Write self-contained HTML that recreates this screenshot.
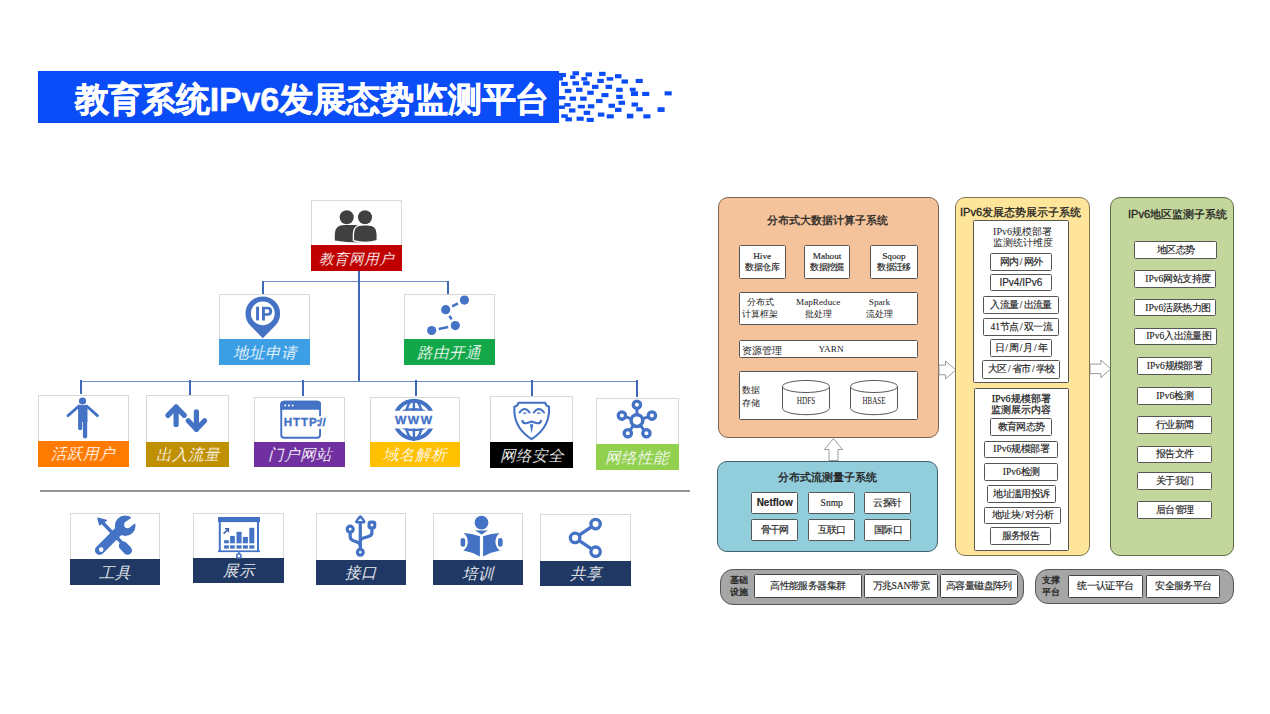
<!DOCTYPE html><html><head><meta charset="utf-8"><style>
*{margin:0;padding:0;box-sizing:border-box}
html,body{width:1270px;height:714px;background:#fff;overflow:hidden;position:relative}
body{font-family:"Liberation Sans",sans-serif}
.ab{position:absolute}
.ttl{position:absolute;left:38px;top:70.5px;width:521px;height:52px;background:#0A4CF8}
.ttxt{position:absolute;left:74.5px;top:75.5px;font-size:34px;font-weight:bold;color:#fff;-webkit-text-stroke:0.5px #fff;white-space:nowrap;line-height:46px;letter-spacing:-0.2px}
.card{position:absolute;background:#fff;border:1px solid #d9d9d9}
.lab{position:absolute;left:-1px;right:-1px;bottom:-1px;color:#fff;font-style:italic;font-size:15px;display:flex;align-items:center;justify-content:center;white-space:nowrap;padding-top:1px}
.ln{position:absolute;background:#4472C4}
.rb{position:absolute;border:1.5px solid #5a5a5a;border-radius:9px}
.wb{position:absolute;background:#fff;border:1.2px solid #555;border-radius:1.5px;display:flex;align-items:center;justify-content:center;text-align:center;font-size:10px;color:#222;line-height:12px;white-space:nowrap;font-family:'Liberation Serif',serif;letter-spacing:-0.6px;-webkit-text-stroke:0.15px #222}
.t{position:absolute;white-space:nowrap;color:#222}
svg{position:absolute;overflow:visible}
</style></head><body>
<div class="ttl"></div>
<div class="ttxt">教育系统IPv6发展态势监测平台</div>
<svg style="left:540px;top:60px" width="150" height="70" viewBox="0 0 1270 593" preserveAspectRatio="none"><g fill="#0A4CF8"><rect x="150" y="110" width="70" height="32"/><rect x="150" y="140" width="45" height="34"/><rect x="175" y="110" width="45" height="35"/><rect x="275" y="95" width="55" height="35"/><rect x="255" y="130" width="45" height="30"/><rect x="385" y="105" width="55" height="35"/><rect x="350" y="145" width="50" height="30"/><rect x="500" y="100" width="55" height="35"/><rect x="565" y="145" width="55" height="30"/><rect x="635" y="120" width="55" height="35"/><rect x="690" y="165" width="55" height="35"/><rect x="810" y="160" width="60" height="35"/><rect x="180" y="185" width="55" height="35"/><rect x="275" y="180" width="55" height="35"/><rect x="365" y="180" width="55" height="35"/><rect x="485" y="160" width="55" height="35"/><rect x="440" y="210" width="55" height="35"/><rect x="555" y="210" width="55" height="35"/><rect x="210" y="245" width="55" height="35"/><rect x="305" y="235" width="55" height="35"/><rect x="400" y="260" width="55" height="35"/><rect x="520" y="280" width="60" height="35"/><rect x="645" y="235" width="55" height="35"/><rect x="760" y="235" width="50" height="30"/><rect x="770" y="265" width="60" height="40"/><rect x="865" y="270" width="60" height="35"/><rect x="1055" y="265" width="60" height="35"/><rect x="160" y="305" width="55" height="30"/><rect x="250" y="310" width="55" height="35"/><rect x="340" y="310" width="55" height="35"/><rect x="475" y="330" width="55" height="35"/><rect x="645" y="295" width="55" height="35"/><rect x="205" y="365" width="55" height="30"/><rect x="320" y="380" width="60" height="30"/><rect x="405" y="375" width="55" height="35"/><rect x="580" y="370" width="55" height="35"/><rect x="665" y="345" width="55" height="35"/><rect x="775" y="360" width="55" height="35"/><rect x="160" y="385" width="50" height="30"/><rect x="245" y="410" width="55" height="35"/><rect x="370" y="430" width="55" height="35"/><rect x="635" y="405" width="55" height="35"/><rect x="815" y="400" width="55" height="35"/><rect x="995" y="400" width="60" height="40"/><rect x="180" y="460" width="55" height="30"/><rect x="215" y="485" width="55" height="35"/><rect x="310" y="480" width="60" height="35"/><rect x="395" y="490" width="60" height="35"/><rect x="490" y="445" width="55" height="35"/><rect x="565" y="460" width="60" height="35"/><rect x="735" y="455" width="55" height="40"/><rect x="875" y="460" width="60" height="35"/></g></svg>
<div class="ln" style="left:262px;top:280.7px;width:187px;height:1.1px;background:#6f8cc8"></div>
<div class="ln" style="left:357.5px;top:271px;width:2px;height:111px;background:#3f68b8"></div>
<div class="ln" style="left:262.0px;top:281px;width:2px;height:13.5px;background:#3f68b8"></div>
<div class="ln" style="left:447.0px;top:281px;width:2px;height:13.5px;background:#3f68b8"></div>
<div class="ln" style="left:80px;top:381px;width:558px;height:1.1px;background:#6f8cc8"></div>
<div class="ln" style="left:80.0px;top:380px;width:2px;height:14.199999999999989px;background:#3f68b8"></div>
<div class="ln" style="left:189.0px;top:380px;width:2px;height:14.5px;background:#3f68b8"></div>
<div class="ln" style="left:301.6px;top:380px;width:2px;height:16px;background:#3f68b8"></div>
<div class="ln" style="left:414.6px;top:380px;width:2px;height:15.5px;background:#3f68b8"></div>
<div class="ln" style="left:530.5px;top:380px;width:2px;height:15.5px;background:#3f68b8"></div>
<div class="ln" style="left:635.8px;top:380px;width:2px;height:16.5px;background:#3f68b8"></div>
<div class="card" style="left:311px;top:200px;width:91px;height:71px"><div class="lab" style="top:44px;background:#C00000;color:#fff;font-size:14.6px;padding-top:2px;-webkit-text-stroke:0.15px #C00000">教育网用户</div></div>
<div class="card" style="left:219px;top:294px;width:91px;height:71px"><div class="lab" style="top:44px;background:#3C9FE6;color:#fff;font-size:15.5px;padding-top:2px;-webkit-text-stroke:0.15px #3C9FE6">地址申请</div></div>
<div class="card" style="left:404px;top:294px;width:90.5px;height:71px"><div class="lab" style="top:44px;background:#12A84A;color:#fff;font-size:15.5px;padding-top:2px;-webkit-text-stroke:0.15px #12A84A">路由开通</div></div>
<div class="card" style="left:37.5px;top:395px;width:91.5px;height:71.60000000000002px"><div class="lab" style="top:44.60000000000002px;background:#FF7A00;color:#fff;font-size:15.5px;padding-top:1.7px;-webkit-text-stroke:0.15px #FF7A00">活跃用户</div></div>
<div class="card" style="left:146px;top:395px;width:83px;height:72.39999999999998px"><div class="lab" style="top:46px;background:#BF9000;color:#fff;font-size:15.5px;padding-top:1.7px;-webkit-text-stroke:0.15px #BF9000">出入流量</div></div>
<div class="card" style="left:254px;top:397px;width:91.39999999999998px;height:70.39999999999998px"><div class="lab" style="top:43.80000000000001px;background:#7030A0;color:#fff;font-size:15.5px;padding-top:1.7px;-webkit-text-stroke:0.15px #7030A0">门户网站</div></div>
<div class="card" style="left:370px;top:396.5px;width:90.39999999999998px;height:70.89999999999998px"><div class="lab" style="top:44.89999999999998px;background:#FFC000;color:#fff;font-size:15.5px;padding-top:1.7px;-webkit-text-stroke:0.15px #FFC000">域名解析</div></div>
<div class="card" style="left:490.3px;top:396.2px;width:83.09999999999997px;height:72.0px"><div class="lab" style="top:45.19999999999999px;background:#000000;color:#fff;font-size:15.5px;padding-top:1.7px;-webkit-text-stroke:0.15px #000000">网络安全</div></div>
<div class="card" style="left:596px;top:397.5px;width:82.5px;height:72.5px"><div class="lab" style="top:45.80000000000001px;background:#92D050;color:#fff;font-size:15.5px;padding-top:2px;-webkit-text-stroke:0.15px #92D050">网络性能</div></div>
<div class="ab" style="left:40px;top:489.6px;width:650px;height:2.2px;background:#959595"></div>
<div class="card" style="left:69.5px;top:513px;width:90.69999999999999px;height:72px"><div class="lab" style="top:45px;background:#1F3864;color:#fff;font-size:15.5px;padding-top:2.5px;-webkit-text-stroke:0.15px #1F3864">工具</div></div>
<div class="card" style="left:193.3px;top:512.5px;width:90.69999999999999px;height:70.70000000000005px"><div class="lab" style="top:44.200000000000045px;background:#1F3864;color:#fff;font-size:15.5px;padding-top:2.5px;-webkit-text-stroke:0.15px #1F3864">展示</div></div>
<div class="card" style="left:315.5px;top:512.6px;width:90.30000000000001px;height:72.19999999999993px"><div class="lab" style="top:46.60000000000002px;background:#1F3864;color:#fff;font-size:15.5px;padding-top:2.5px;-webkit-text-stroke:0.15px #1F3864">接口</div></div>
<div class="card" style="left:432.5px;top:513.4px;width:90.5px;height:72.10000000000002px"><div class="lab" style="top:45.80000000000007px;background:#1F3864;color:#fff;font-size:15.5px;padding-top:2.5px;-webkit-text-stroke:0.15px #1F3864">培训</div></div>
<div class="card" style="left:540.4px;top:514.2px;width:91.10000000000002px;height:72.29999999999995px"><div class="lab" style="top:45.799999999999955px;background:#1F3864;color:#fff;font-size:15.5px;padding-top:2.5px;-webkit-text-stroke:0.15px #1F3864">共享</div></div>
<div class="rb" style="left:718px;top:197.3px;width:220.5px;height:241.2px;background:#F5C39B;border-radius:10px;border-color:#7d6450"></div>
<div class="t" style="left:767px;top:214px;font-size:11px;line-height:13px;width:121px;text-align:center;-webkit-text-stroke:0.3px #222">分布式大数据计算子系统</div>
<div class="wb" style="left:738.7px;top:245px;width:46.89999999999998px;height:33.5px;font-size:9.2px;line-height:11px;padding-top:1px"><div><span style="letter-spacing:0">Hive</span><br>数据仓库</div></div>
<div class="wb" style="left:803.6px;top:245px;width:46.89999999999998px;height:33.5px;font-size:9.2px;line-height:11px;padding-top:1px"><div><span style="letter-spacing:0">Mahout</span><br>数据挖掘</div></div>
<div class="wb" style="left:870.4px;top:245px;width:47.200000000000045px;height:33.5px;font-size:9.2px;line-height:11px;padding-top:1px"><div><span style="letter-spacing:0">Sqoop</span><br>数据迁移</div></div>
<div class="wb" style="left:738.6px;top:292.4px;width:179.0px;height:32.80000000000001px;font-size:9.5px;"><div></div></div>
<div class="t" style="left:741.5px;top:297px;font-size:9.2px;line-height:11.2px;line-height:11.5px;color:#222;width:37px;text-align:center">分布式<br>计算框架</div>
<div class="t" style="left:796px;top:297px;font-size:9.2px;line-height:11.2px;line-height:11.5px;color:#222;font-family:Liberation Serif,serif;width:44px;text-align:center">MapReduce<br>批处理</div>
<div class="t" style="left:866px;top:297px;font-size:9.2px;line-height:11.2px;line-height:11.5px;color:#222;text-align:center;font-family:Liberation Serif,serif">Spark<br>流处理</div>
<div class="wb" style="left:738.6px;top:340.2px;width:179.0px;height:17.900000000000034px;font-size:9.5px;"><div></div></div>
<div class="t" style="left:741.5px;top:345px;font-size:9.5px;line-height:11.5px;line-height:11px;color:#222">资源管理</div>
<div class="t" style="left:818.5px;top:343.5px;font-size:9.2px;line-height:11.2px;line-height:11px;color:#222;font-family:Liberation Serif,serif">YARN</div>
<div class="wb" style="left:738.6px;top:371.2px;width:179.0px;height:49.10000000000002px;font-size:9.5px;"><div></div></div>
<div class="t" style="left:742px;top:384px;font-size:9.2px;line-height:11.2px;line-height:13px;color:#222">数据<br>存储</div>
<svg style="left:782px;top:380.3px" width="48" height="34.69999999999999" viewBox="0 0 48 34.69999999999999"><path d="M0.5 6.5 L0.5 28.19999999999999 A23.5 6.5 0 0 0 47.5 28.19999999999999 L47.5 6.5" fill="#fff" stroke="#555" stroke-width="1"/><ellipse cx="24.0" cy="6.5" rx="23.5" ry="6.0" fill="#fff" stroke="#555" stroke-width="1"/><text x="24.0" y="23.849999999999994" text-anchor="middle" textLength="18.6" lengthAdjust="spacingAndGlyphs" font-family="Liberation Serif" font-size="10" fill="#222">HDFS</text></svg>
<svg style="left:850px;top:380.3px" width="48" height="34.69999999999999" viewBox="0 0 48 34.69999999999999"><path d="M0.5 6.5 L0.5 28.19999999999999 A23.5 6.5 0 0 0 47.5 28.19999999999999 L47.5 6.5" fill="#fff" stroke="#555" stroke-width="1"/><ellipse cx="24.0" cy="6.5" rx="23.5" ry="6.0" fill="#fff" stroke="#555" stroke-width="1"/><text x="24.0" y="23.849999999999994" text-anchor="middle" textLength="23" lengthAdjust="spacingAndGlyphs" font-family="Liberation Serif" font-size="10" fill="#222">HBASE</text></svg>
<svg style="left:938.5px;top:361px" width="17.0" height="17.899999999999977" viewBox="0 0 17.0 17.899999999999977"><path d="M0 4.116999999999995 L6.46 4.116999999999995 L6.46 0 L17.0 8.949999999999989 L6.46 17.899999999999977 L6.46 13.782999999999983 L0 13.782999999999983Z" fill="#fff" stroke="#999" stroke-width="1"/></svg>
<svg style="left:1090px;top:360.1px" width="20.90000000000009" height="17.69999999999999" viewBox="0 0 20.90000000000009 17.69999999999999"><path d="M0 4.070999999999998 L10.868000000000048 4.070999999999998 L10.868000000000048 0 L20.90000000000009 8.849999999999994 L10.868000000000048 17.69999999999999 L10.868000000000048 13.62899999999999 L0 13.62899999999999Z" fill="#fff" stroke="#999" stroke-width="1"/></svg>
<svg style="left:824px;top:438px" width="19" height="23" viewBox="0 0 19 23"><path d="M9.5 0.5 L18.5 11.5 L14 11.5 L14 22.5 L5 22.5 L5 11.5 L0.5 11.5 Z" fill="#fff" stroke="#999" stroke-width="1"/></svg>
<div class="rb" style="left:717.4px;top:460.8px;width:220.80000000000007px;height:91.40000000000003px;background:#92CDDC;border-radius:10px;border-color:#44606c"></div>
<div class="t" style="left:778px;top:470.5px;font-size:11px;line-height:13px;color:#222;-webkit-text-stroke:0.35px #222">分布式流测量子系统</div>
<div class="wb" style="left:751.3px;top:491.6px;width:46.80000000000007px;height:22.399999999999977px;font-size:10px;font-weight:bold;color:#222;font-family:Liberation Sans,sans-serif"><div><span style="letter-spacing:0">Netflow</span></div></div>
<div class="wb" style="left:808.3px;top:491.6px;width:46.80000000000007px;height:22.399999999999977px;font-size:9.5px;"><div><span style="letter-spacing:0">Snmp</span></div></div>
<div class="wb" style="left:864px;top:491.6px;width:46.5px;height:22.399999999999977px;font-size:9.5px;"><div>云探针</div></div>
<div class="wb" style="left:751.3px;top:518.6px;width:46.80000000000007px;height:22.0px;font-size:9.5px;"><div>骨干网</div></div>
<div class="wb" style="left:808.3px;top:518.6px;width:46.80000000000007px;height:22.0px;font-size:9.5px;"><div>互联口</div></div>
<div class="wb" style="left:864.4px;top:518.6px;width:47.0px;height:22.0px;font-size:9.5px;"><div>国际口</div></div>
<div class="rb" style="left:955.2px;top:196.9px;width:134.79999999999995px;height:359.1px;background:#FEE599;border-radius:10px;border-color:#7f7555"></div>
<div class="t" style="left:960px;top:205.5px;font-size:11px;line-height:13px;color:#222;-webkit-text-stroke:0.3px #222">IPv6发展态势展示子系统</div>
<div class="wb" style="left:973.3px;top:220.3px;width:95.70000000000005px;height:162.7px;font-size:10px;align-items:flex-start"><div></div></div>
<div class="t" style="left:974.5px;top:225.5px;font-size:10px;line-height:12px;width:96px;text-align:center;line-height:11.5px;color:#222;font-family:Liberation Serif,serif">IPv6规模部署<br>监测统计维度</div>
<div class="wb" style="left:990.4px;top:253px;width:61.30000000000007px;height:18.30000000000001px;font-size:9.5px;"><div>网内<span style="letter-spacing:0;padding:0 1.2px">/</span>网外</div></div>
<div class="wb" style="left:990px;top:273.7px;width:61.59999999999991px;height:17.600000000000023px;font-size:9.5px;"><div><span style="font-family:Liberation Sans,sans-serif;font-size:10px;letter-spacing:0;position:relative;top:1px">IPv4/IPv6</span></div></div>
<div class="wb" style="left:983.1px;top:295.9px;width:76.19999999999993px;height:17.80000000000001px;font-size:9.5px;"><div>入流量<span style="letter-spacing:0;padding:0 1.2px">/</span>出流量</div></div>
<div class="wb" style="left:983.1px;top:318.3px;width:76.19999999999993px;height:17.80000000000001px;font-size:9.5px;"><div><span style="letter-spacing:0">41</span>节点<span style="letter-spacing:0;padding:0 1.2px">/</span>双一流</div></div>
<div class="wb" style="left:990.4px;top:339.2px;width:61.19999999999993px;height:18.19999999999999px;font-size:9.5px;"><div>日<span style="letter-spacing:0;padding:0 1.2px">/</span>周<span style="letter-spacing:0;padding:0 1.2px">/</span>月<span style="letter-spacing:0;padding:0 1.2px">/</span>年</div></div>
<div class="wb" style="left:982.2px;top:360.2px;width:78.29999999999995px;height:18.600000000000023px;font-size:9.5px;"><div>大区<span style="letter-spacing:0;padding:0 1.2px">/</span>省市<span style="letter-spacing:0;padding:0 1.2px">/</span>学校</div></div>
<div class="wb" style="left:973.9px;top:387.6px;width:95.30000000000007px;height:163.39999999999998px;font-size:9.5px;"><div></div></div>
<div class="t" style="left:973.9px;top:392.5px;font-size:10px;line-height:12px;width:94.5px;text-align:center;line-height:11.5px;color:#222;-webkit-text-stroke:0.25px #222;font-family:Liberation Serif,serif">IPv6规模部署<br>监测展示内容</div>
<div class="wb" style="left:990.2px;top:418.3px;width:61.799999999999955px;height:17.69999999999999px;font-size:9.5px;"><div>教育网态势</div></div>
<div class="wb" style="left:984px;top:440.5px;width:74.29999999999995px;height:17.600000000000023px;font-size:9.5px;"><div><span style="letter-spacing:0">IPv6</span>规模部署</div></div>
<div class="wb" style="left:984px;top:463.2px;width:74.29999999999995px;height:17.600000000000023px;font-size:9.5px;"><div><span style="letter-spacing:0">IPv6</span>检测</div></div>
<div class="wb" style="left:987.2px;top:485.4px;width:68.59999999999991px;height:17.600000000000023px;font-size:9.5px;"><div>地址滥用投诉</div></div>
<div class="wb" style="left:984px;top:507.3px;width:77.29999999999995px;height:16.400000000000034px;font-size:9.5px;"><div>地址块<span style="letter-spacing:0;padding:0 1.2px">/</span>对分析</div></div>
<div class="wb" style="left:989.7px;top:527px;width:61.59999999999991px;height:18.200000000000045px;font-size:9.5px;"><div>服务报告</div></div>
<div class="rb" style="left:1110.4px;top:197px;width:124.09999999999991px;height:358.5px;background:#C3D69B;border-radius:10px;border-color:#5d6b4a"></div>
<div class="t" style="left:1128px;top:207.5px;font-size:11px;line-height:13px;color:#222;-webkit-text-stroke:0.3px #222">IPv6地区监测子系统</div>
<div class="wb" style="left:1133.6px;top:241.2px;width:83.90000000000009px;height:17.900000000000034px;font-size:9.5px;"><div>地区态势</div></div>
<div class="wb" style="left:1133.6px;top:269.8px;width:82.5px;height:18.19999999999999px;font-size:9.5px;padding-left:6px"><div><span style="letter-spacing:0">IPv6</span>网站支持度</div></div>
<div class="wb" style="left:1133.6px;top:298.6px;width:82.5px;height:17.899999999999977px;font-size:9.5px;padding-left:6px"><div><span style="letter-spacing:0">IPv6</span>活跃热力图</div></div>
<div class="wb" style="left:1134.4px;top:327.7px;width:82.59999999999991px;height:17.600000000000023px;font-size:9.5px;padding-left:6px"><div><span style="letter-spacing:0">IPv6</span>入出流量图</div></div>
<div class="wb" style="left:1137px;top:357.4px;width:75px;height:17.900000000000034px;font-size:9.5px;"><div><span style="letter-spacing:0">IPv6</span>规模部署</div></div>
<div class="wb" style="left:1137.2px;top:386.8px;width:74.79999999999995px;height:18.19999999999999px;font-size:9.5px;"><div><span style="letter-spacing:0">IPv6</span>检测</div></div>
<div class="wb" style="left:1137.2px;top:416.2px;width:74.79999999999995px;height:18.19999999999999px;font-size:9.5px;"><div>行业新闻</div></div>
<div class="wb" style="left:1137.2px;top:445.6px;width:74.79999999999995px;height:17.599999999999966px;font-size:9.5px;"><div>报告文件</div></div>
<div class="wb" style="left:1137.2px;top:472.2px;width:74.79999999999995px;height:18.100000000000023px;font-size:9.5px;"><div>关于我们</div></div>
<div class="wb" style="left:1137.2px;top:501px;width:74.79999999999995px;height:18.200000000000045px;font-size:9.5px;"><div>后台管理</div></div>
<div class="rb" style="left:720px;top:568.8px;width:303.70000000000005px;height:36.200000000000045px;background:#A6A6A6;border-radius:13px;border-color:#555;border-width:1.5px"></div>
<div class="t" style="left:730px;top:575px;font-size:9.2px;line-height:11.2px;line-height:11.5px;color:#222;-webkit-text-stroke:0.3px #222">基础<br>设施</div>
<div class="wb" style="left:754px;top:574.4px;width:107.70000000000005px;height:23.800000000000068px;font-size:9.5px;border-width:1.5px;border-color:#444"><div>高性能服务器集群</div></div>
<div class="wb" style="left:863.5px;top:574.4px;width:74.89999999999998px;height:23.800000000000068px;font-size:9.5px;border-width:1.5px;border-color:#444"><div>万兆<span style="letter-spacing:0">SAN</span>带宽</div></div>
<div class="wb" style="left:940.1px;top:574.4px;width:77.60000000000002px;height:23.800000000000068px;font-size:9.5px;border-width:1.5px;border-color:#444"><div>高容量磁盘阵列</div></div>
<div class="rb" style="left:1035.2px;top:569px;width:198.79999999999995px;height:34.799999999999955px;background:#A6A6A6;border-radius:13px;border-color:#555;border-width:1.5px"></div>
<div class="t" style="left:1042px;top:575px;font-size:9.2px;line-height:11.2px;line-height:11.5px;color:#222;-webkit-text-stroke:0.3px #222">支撑<br>平台</div>
<div class="wb" style="left:1068.1px;top:574.7px;width:74.5px;height:23.299999999999955px;font-size:9.5px;border-width:1.5px;border-color:#444"><div>统一认证平台</div></div>
<div class="wb" style="left:1146.4px;top:574.7px;width:74.09999999999991px;height:23.299999999999955px;font-size:9.5px;border-width:1.5px;border-color:#444"><div>安全服务平台</div></div>
<svg style="left:325px;top:200px" width="65" height="50" viewBox="0 0 65 50"><g fill="#404040"><circle cx="21.7" cy="17.2" r="7"/><circle cx="40" cy="17.2" r="7"/><path d="M9.8 40.6 L9.8 34 Q9.8 24.9 19.5 24.9 L30 24.9 Q37 25 37 33 L37 42.6 Q22 42.8 9.8 40.6Z"/><path d="M28.4 40.6 L28.4 34 Q28.4 24.9 38 24.9 L42.6 24.9 Q52.2 24.9 52.2 34 L52.2 40.6 Q40 44.3 28.4 40.6Z" stroke="#fff" stroke-width="1.3"/></g></svg>
<svg style="left:240px;top:292px" width="50" height="50" viewBox="0 0 50 50"><path d="M22.8 46.2 L10.200000000000001 33.55 A17.3 17.3 0 1 1 35.4 33.55 Z" fill="#4472C4"/><circle cx="22.8" cy="21.4" r="11.9" fill="#fff"/><rect x="16.1" y="14.7" width="2.9" height="13.7" fill="#4472C4"/><path d="M22 28.4 L22 14.7 L27.5 14.7 Q32.2 14.7 32.2 19.2 Q32.2 23.8 27.5 23.8 L24.9 23.8 L24.9 28.4Z M24.9 17.2 L24.9 21.3 L27.2 21.3 Q29.3 21.3 29.3 19.2 Q29.3 17.2 27.2 17.2Z" fill="#4472C4" fill-rule="evenodd"/></svg>
<svg style="left:420px;top:290px" width="60" height="50" viewBox="0 0 60 50"><line x1="37.99" y1="13.39" x2="32.11" y2="16.41" stroke="#4472C4" stroke-width="2.6"/><line x1="29.42" y1="25.86" x2="31.58" y2="29.44" stroke="#4472C4" stroke-width="2.6"/><line x1="28.25" y1="37.06" x2="18.75" y2="39.04" stroke="#4472C4" stroke-width="2.6"/><circle cx="44.4" cy="10.1" r="4.6" fill="#4472C4"/><circle cx="25.7" cy="19.7" r="4.6" fill="#4472C4"/><circle cx="35.3" cy="35.6" r="4.6" fill="#4472C4"/><circle cx="11.7" cy="40.5" r="4.6" fill="#4472C4"/></svg>
<svg style="left:62px;top:395px" width="40" height="45" viewBox="0 0 40 45"><g fill="#4472C4"><circle cx="20.5" cy="6" r="3.6"/><path d="M16.1 10.1 L25.5 10.1 L25.5 27 L16.1 27Z"/><path d="M16.1 26 L20.2 26 L20.2 33.2 Q20.2 35.2 18.15 35.2 Q16.1 35.2 16.1 33.2Z"/><path d="M20.9 26 L25.2 26 L25.2 41.3 Q25.2 43.5 23.05 43.5 Q20.9 43.5 20.9 41.3Z"/></g><g stroke="#4472C4" stroke-width="2.9" stroke-linecap="round"><line x1="17" y1="11" x2="6" y2="20.6"/><line x1="24.6" y1="11" x2="35.4" y2="20.6"/></g></svg>
<svg style="left:160px;top:398px" width="52" height="40" viewBox="0 0 52 40"><g stroke="#4472C4" stroke-width="5.2" stroke-linecap="round" stroke-linejoin="round" fill="none"><path d="M16.1 26.4 L16.1 9"/><path d="M7.9 17.3 L16.1 9 L24.3 17.3"/><path d="M36.4 13.8 L36.4 31.2"/><path d="M28.2 22.8 L36.4 31.2 L44.6 22.8"/></g></svg>
<svg style="left:276px;top:398px" width="56" height="44" viewBox="0 0 56 44"><path d="M44.05 18.2 L44.05 6.5 Q44.05 3.75 41.3 3.75 L8 3.75 Q5.25 3.75 5.25 6.5 L5.25 37 Q5.25 39.75 8 39.75 L41.3 39.75 Q44.05 39.75 44.05 37 L44.05 31.1" fill="none" stroke="#4472C4" stroke-width="1.9"/><path d="M5.25 10.8 L5.25 6.5 Q5.25 3.75 8 3.75 L41.3 3.75 Q44.05 3.75 44.05 6.5 L44.05 10.8Z" fill="#4472C4" stroke="#4472C4" stroke-width="1.9"/><g fill="#fff"><circle cx="9.2" cy="7.4" r="1"/><circle cx="12.9" cy="7.4" r="1"/><circle cx="16.6" cy="7.4" r="1"/></g><g font-family="Liberation Sans" font-weight="bold" font-size="11.6" fill="#4472C4" stroke="#4472C4" stroke-width="0.35"><text x="7.8" y="28.2" letter-spacing="0.9">HTTP</text><text x="40.6" y="28.2">:</text><text x="43" y="28.2" letter-spacing="0.4">//</text></g></svg>
<svg style="left:392px;top:396px" width="44" height="48" viewBox="0 0 44 48"><defs><clipPath id="gc"><rect x="0" y="0" width="44" height="14.8"/><rect x="0" y="32.4" width="44" height="16"/></clipPath></defs><g clip-path="url(#gc)" fill="none" stroke="#4472C4"><circle cx="21.9" cy="23.7" r="19" stroke-width="4"/><ellipse cx="21.9" cy="23.7" rx="8.5" ry="19.5" stroke-width="2.4"/><line x1="21.9" y1="3" x2="21.9" y2="45" stroke-width="2.4"/><ellipse cx="21.9" cy="23.7" rx="17.5" ry="10.2" stroke-width="2.8"/></g><text x="3" y="27.7" textLength="38.5" lengthAdjust="spacingAndGlyphs" letter-spacing="1.4" font-family="Liberation Sans" font-weight="bold" font-size="11.2" fill="#4472C4" stroke="#4472C4" stroke-width="0.3">WWW</text></svg>
<svg style="left:508px;top:398px" width="48" height="46" viewBox="0 0 48 46"><g fill="none" stroke="#4472C4" stroke-width="2.1" stroke-linecap="round" stroke-linejoin="round"><path d="M10.5 4.7 L37.2 4.7 Q37.6 8 41 8.6 L41 14 Q40 30.5 23.6 41.2 Q7.2 30.5 6.4 14 L6.4 8.6 Q9.9 8 10.5 4.7Z"/><path d="M11.6 14.5 Q16.6 7.4 21.6 14.5"/><path d="M25.8 14.5 Q30.9 7.4 36 14.5"/><path d="M14.4 22.8 Q15.5 26 19 25 Q22 24 23.6 23.4 Q25.2 24 28.4 25 Q31.9 26 33 22.8"/></g><g fill="#4472C4"><rect x="15" y="14.6" width="3.5" height="1.2"/><rect x="29" y="14.6" width="3.5" height="1.2"/><path d="M21.9 26.2 L25.3 26.2 L23.6 35.5Z"/></g></svg>
<svg style="left:614px;top:398px" width="46" height="42" viewBox="0 0 46 42"><g stroke="#4472C4" fill="none"><line x1="22.9" y1="22.6" x2="22.9" y2="6.8" stroke-width="2.9"/><line x1="22.9" y1="22.6" x2="7.9" y2="17.6" stroke-width="2.9"/><line x1="22.9" y1="22.6" x2="37.9" y2="17.6" stroke-width="2.9"/><line x1="22.9" y1="22.6" x2="13.8" y2="35.3" stroke-width="2.9"/><line x1="22.9" y1="22.6" x2="32.4" y2="35.3" stroke-width="2.9"/><circle cx="22.9" cy="22.6" r="5.85" stroke-width="3.5" fill="#fff"/><circle cx="22.9" cy="6.8" r="3.65" stroke-width="3.3" fill="#fff"/><circle cx="7.9" cy="17.6" r="3.65" stroke-width="3.3" fill="#fff"/><circle cx="37.9" cy="17.6" r="3.65" stroke-width="3.3" fill="#fff"/><circle cx="13.8" cy="35.3" r="3.65" stroke-width="3.3" fill="#fff"/><circle cx="32.4" cy="35.3" r="3.65" stroke-width="3.3" fill="#fff"/></g></svg>
<svg style="left:90px;top:512px" width="50" height="48" viewBox="0 0 50 48"><defs><mask id="wm" maskUnits="userSpaceOnUse" x="-5" y="-5" width="60" height="60"><rect x="-5" y="-5" width="60" height="60" fill="#fff"/><circle cx="37.5" cy="12.8" r="3.4" fill="#000"/><path d="M35.46 10.08 L45.06 2.88 L49.14 8.32 L39.54 15.52Z" fill="#000"/><circle cx="11.2" cy="37.6" r="2.3" fill="#000"/></mask></defs><g fill="#4472C4" stroke="#4472C4"><line x1="12" y1="10" x2="33" y2="32" stroke-width="3.4"/><path d="M7.8 6.2 L16.4 8.4 L9.6 12.8Z" stroke-width="1.2" stroke-linejoin="round"/><line x1="33.2" y1="33.8" x2="37.6" y2="38.4" stroke-width="8.8" stroke-linecap="round"/></g><g mask="url(#wm)" fill="#4472C4"><line x1="9.6" y1="38.2" x2="28.5" y2="19.3" stroke="#4472C4" stroke-width="9.4" stroke-linecap="round"/><circle cx="35.2" cy="13.8" r="10.3"/></g></svg>
<svg style="left:214px;top:512px" width="50" height="48" viewBox="0 0 50 48"><g fill="#4472C4"><rect x="4" y="5" width="42" height="5.1"/><rect x="4.8" y="10" width="2" height="29"/><rect x="43" y="10" width="2" height="29"/><rect x="4" y="38.4" width="42" height="1.7"/><rect x="24.2" y="40" width="1.5" height="2.5"/><rect x="10.1" y="28.2" width="4.700000000000001" height="3.1000000000000014"/><rect x="10.1" y="33.3" width="4.700000000000001" height="3.3"/><rect x="16.1" y="23.9" width="4.699999999999999" height="7.400000000000002"/><rect x="16.1" y="33.3" width="4.699999999999999" height="3.3"/><rect x="22.5" y="19.8" width="5.100000000000001" height="11.5"/><rect x="22.5" y="33.3" width="5.100000000000001" height="3.3"/><rect x="28.9" y="24.9" width="5.0" height="6.400000000000002"/><rect x="28.9" y="33.3" width="5.0" height="3.3"/><rect x="35.3" y="15.8" width="5.0" height="15.5"/><rect x="35.3" y="33.3" width="5.0" height="3.3"/></g><circle cx="24.9" cy="44" r="2.2" fill="none" stroke="#4472C4" stroke-width="1.5"/><g stroke="#3b5fa8" stroke-width="1.5" fill="none"><line x1="9.6" y1="21.6" x2="14" y2="17.2"/><path d="M11 16.8 L14.4 16.8 L14.4 20.2"/></g></svg>
<svg style="left:340px;top:512px" width="40" height="50" viewBox="0 0 40 50"><g fill="none" stroke="#4472C4" stroke-width="3.2" stroke-linecap="round" stroke-linejoin="round"><line x1="20.3" y1="10" x2="20.3" y2="36"/><path d="M10.2 20.5 L10.2 24.5 Q10.2 27.5 13.5 28.8 L17.5 30.2 Q20.3 31.5 20.3 34"/><path d="M31.9 16.8 L31.9 20.5 Q31.9 23.5 28.5 24.5 L23.5 26 Q20.5 27 20.3 29"/><circle cx="10.2" cy="17.2" r="3"/><circle cx="20.3" cy="40.3" r="2.9"/><rect x="29.1" y="10.2" width="5.6" height="5.6" rx="1.5"/></g><path d="M20.3 3.2 Q21.2 3.2 22 4.2 L25.2 8.6 Q26.2 10.2 25 11 Q24.5 11.6 23.5 11.6 L17.1 11.6 Q16 11.6 15.6 11 Q14.5 10.2 15.5 8.6 L18.6 4.2 Q19.4 3.2 20.3 3.2Z" fill="#4472C4"/><path d="M20.3 6.3 L22.8 9.1 L17.8 9.1Z" fill="#fff"/></svg>
<svg style="left:455px;top:512px" width="50" height="50" viewBox="0 0 50 50"><g fill="#4472C4"><circle cx="26.5" cy="10.7" r="6.9"/><path d="M20 18.6 L33 18.6 L26.5 22.4Z"/><path d="M8.4 21 Q17 21.5 24.9 24.2 L24.9 44.5 Q17 40 8.4 38.5 Q12.8 35 12.8 29.8 Q12.8 24.5 8.4 21Z"/><path d="M44.8 21 Q36 21.5 28.1 24.2 L28.1 44.5 Q36 40 44.8 38.5 Q40.4 35 40.4 29.8 Q40.4 24.5 44.8 21Z"/><rect x="5.6" y="25.9" width="4.6" height="8.8" rx="2.3"/><rect x="43" y="25.9" width="4.6" height="8.8" rx="2.3"/></g></svg>
<svg style="left:562px;top:514px" width="46" height="48" viewBox="0 0 46 48"><g fill="none" stroke="#4472C4" stroke-width="3.3"><line x1="13.1" y1="23.9" x2="33.6" y2="10.1"/><line x1="13.1" y1="23.9" x2="33.6" y2="37.7"/><circle cx="33.6" cy="10.1" r="4.7" fill="#fff"/><circle cx="13.1" cy="23.9" r="4.7" fill="#fff"/><circle cx="33.6" cy="37.7" r="4.7" fill="#fff"/></g></svg>
</body></html>
